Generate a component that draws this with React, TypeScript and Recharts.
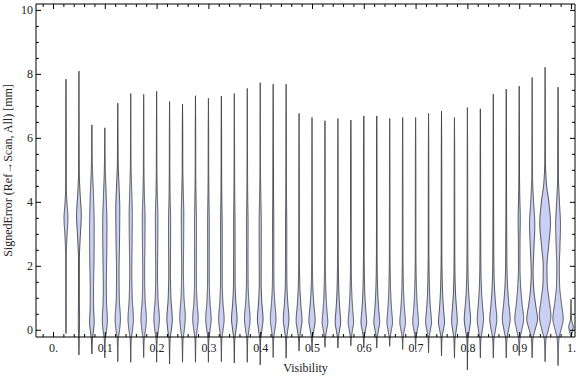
import { ComposedChart, Bar, Scatter, XAxis, YAxis, Label } from "recharts"

// visibility bins (x) and the extent of the signed error in each bin
const visibility = [
  0.025, 0.05, 0.075, 0.1, 0.125, 0.15, 0.175, 0.2, 0.225, 0.25,
  0.275, 0.3, 0.325, 0.35, 0.375, 0.4, 0.425, 0.45, 0.475, 0.5,
  0.525, 0.55, 0.575, 0.6, 0.625, 0.65, 0.675, 0.7, 0.725, 0.75,
  0.775, 0.8, 0.825, 0.85, 0.875, 0.9, 0.925, 0.95, 0.975, 1.0,
]

const errorMax = [
  7.85, 8.1, 6.42, 6.33, 7.1, 7.4, 7.37, 7.47, 7.15, 7.07,
  7.33, 7.25, 7.32, 7.4, 7.56, 7.74, 7.69, 7.69, 6.78, 6.65,
  6.55, 6.62, 6.57, 6.7, 6.7, 6.62, 6.65, 6.65, 6.78, 6.85,
  6.65, 6.96, 6.92, 7.38, 7.54, 7.63, 7.9, 8.22, 7.6, 0.97,
]

const errorMin = [
  -0.1, -0.77, -0.74, -0.86, -0.98, -1.0, -0.85, -1.0, -1.05, -1.0,
  -1.0, -1.0, -0.98, -1.02, -1.0, -1.08, -0.85, -0.87, -0.65, -0.65,
  -0.53, -0.55, -0.48, -0.55, -0.55, -0.5, -0.6, -0.6, -0.7, -0.8,
  -0.86, -1.24, -0.86, -0.86, -0.86, -0.79, -0.86, -0.98, -1.1, -0.2,
]

// relative density [error, density]
const densityKnots = [
  [[0.0, 0.04], [0.4, 0.06], [1.2, 0.05], [2.3, 0.05], [2.9, 0.15], [3.5, 0.31], [4.0, 0.15], [4.5, 0.05], [6.0, 0.035]],
  [[-0.3, 0.04], [0.3, 0.1], [1.0, 0.07], [2.2, 0.07], [2.8, 0.18], [3.6, 0.37], [4.3, 0.18], [4.9, 0.06], [6.0, 0.035]],
  [[-0.3, 0.08], [0.0, 0.26], [0.25, 0.37], [0.7, 0.28], [1.3, 0.26], [2.2, 0.34], [3.2, 0.37], [4.2, 0.26], [5.0, 0.1], [5.6, 0.04]],
  [[-0.3, 0.08], [0.0, 0.28], [0.3, 0.4], [0.9, 0.27], [1.4, 0.24], [2.3, 0.3], [3.3, 0.34], [4.2, 0.22], [5.0, 0.08], [5.6, 0.035]],
  [[-0.3, 0.08], [0.0, 0.28], [0.35, 0.42], [1.0, 0.24], [1.8, 0.2], [2.8, 0.28], [3.8, 0.32], [4.5, 0.2], [5.3, 0.06], [6.2, 0.035]],
  [[-0.3, 0.08], [0.0, 0.28], [0.35, 0.43], [1.0, 0.24], [1.8, 0.17], [2.8, 0.22], [3.6, 0.25], [4.5, 0.14], [5.2, 0.05], [6.2, 0.035]],
  [[-0.3, 0.08], [0.0, 0.28], [0.35, 0.43], [1.0, 0.22], [1.8, 0.15], [2.7, 0.2], [3.5, 0.22], [4.3, 0.11], [5.1, 0.045], [6.2, 0.035]],
  [[-0.3, 0.08], [0.0, 0.28], [0.35, 0.44], [1.0, 0.22], [1.8, 0.14], [2.7, 0.18], [3.5, 0.2], [4.3, 0.1], [5.1, 0.045], [6.2, 0.035]],
  [[-0.3, 0.08], [0.0, 0.28], [0.35, 0.43], [1.0, 0.22], [1.8, 0.13], [2.7, 0.16], [3.4, 0.17], [4.2, 0.08], [5.0, 0.045], [6.2, 0.035]],
  [[-0.3, 0.08], [0.0, 0.28], [0.4, 0.44], [1.1, 0.22], [1.9, 0.14], [2.8, 0.18], [3.6, 0.2], [4.4, 0.11], [5.1, 0.045], [6.2, 0.035]],
  [[-0.3, 0.07], [0.0, 0.26], [0.35, 0.44], [0.9, 0.25], [1.5, 0.15], [2.4, 0.15], [3.3, 0.16], [4.2, 0.09], [5.0, 0.045], [6.2, 0.035]],
  [[-0.3, 0.07], [0.0, 0.26], [0.35, 0.43], [0.9, 0.24], [1.5, 0.14], [2.4, 0.13], [3.3, 0.14], [4.2, 0.08], [5.0, 0.045], [6.2, 0.035]],
  [[-0.3, 0.07], [0.0, 0.26], [0.35, 0.44], [0.9, 0.24], [1.5, 0.14], [2.4, 0.13], [3.3, 0.13], [4.2, 0.07], [5.0, 0.045], [6.2, 0.035]],
  [[-0.3, 0.07], [0.0, 0.26], [0.35, 0.44], [0.9, 0.24], [1.5, 0.13], [2.4, 0.12], [3.3, 0.12], [4.2, 0.07], [5.0, 0.045], [6.2, 0.035]],
  [[-0.3, 0.07], [0.0, 0.26], [0.35, 0.45], [0.9, 0.25], [1.5, 0.13], [2.4, 0.12], [3.3, 0.13], [4.2, 0.07], [5.0, 0.045], [6.2, 0.035]],
  [[-0.3, 0.07], [0.0, 0.26], [0.35, 0.45], [0.9, 0.25], [1.5, 0.15], [2.4, 0.16], [3.3, 0.17], [4.2, 0.1], [5.0, 0.045], [6.2, 0.035]],
  [[-0.3, 0.07], [0.0, 0.26], [0.35, 0.45], [0.9, 0.25], [1.5, 0.12], [2.4, 0.1], [3.3, 0.1], [4.2, 0.06], [5.0, 0.045], [6.2, 0.035]],
  [[-0.3, 0.07], [0.0, 0.26], [0.35, 0.45], [0.9, 0.25], [1.5, 0.12], [2.4, 0.1], [3.3, 0.1], [4.2, 0.06], [5.0, 0.045], [6.2, 0.035]],
  [[-0.3, 0.07], [0.0, 0.27], [0.3, 0.47], [0.8, 0.28], [1.4, 0.12], [2.2, 0.06], [3.5, 0.05], [5.0, 0.04]],
  [[-0.3, 0.07], [0.0, 0.28], [0.3, 0.5], [0.8, 0.3], [1.4, 0.12], [2.2, 0.06], [3.5, 0.05], [5.0, 0.04]],
  [[-0.25, 0.07], [0.0, 0.26], [0.25, 0.45], [0.65, 0.3], [1.1, 0.17], [1.7, 0.09], [2.5, 0.05], [4.0, 0.045], [5.5, 0.035]],
  [[-0.25, 0.07], [0.0, 0.26], [0.25, 0.44], [0.65, 0.3], [1.1, 0.17], [1.7, 0.09], [2.5, 0.05], [4.0, 0.045], [5.5, 0.035]],
  [[-0.25, 0.07], [0.0, 0.25], [0.25, 0.43], [0.65, 0.29], [1.1, 0.16], [1.7, 0.08], [2.5, 0.05], [4.0, 0.045], [5.5, 0.035]],
  [[-0.25, 0.07], [0.0, 0.26], [0.25, 0.45], [0.65, 0.3], [1.1, 0.17], [1.7, 0.09], [2.5, 0.05], [4.0, 0.045], [5.5, 0.035]],
  [[-0.25, 0.07], [0.0, 0.27], [0.25, 0.46], [0.65, 0.31], [1.1, 0.18], [1.7, 0.09], [2.5, 0.05], [4.0, 0.045], [5.5, 0.035]],
  [[-0.25, 0.07], [0.0, 0.26], [0.25, 0.44], [0.65, 0.3], [1.1, 0.17], [1.7, 0.09], [2.5, 0.05], [4.0, 0.045], [5.5, 0.035]],
  [[-0.25, 0.07], [0.0, 0.26], [0.25, 0.45], [0.65, 0.3], [1.1, 0.17], [1.7, 0.09], [2.5, 0.05], [4.0, 0.045], [5.5, 0.035]],
  [[-0.25, 0.07], [0.0, 0.27], [0.25, 0.46], [0.65, 0.31], [1.1, 0.18], [1.7, 0.09], [2.5, 0.05], [4.0, 0.045], [5.5, 0.035]],
  [[-0.25, 0.07], [0.0, 0.27], [0.25, 0.47], [0.65, 0.32], [1.1, 0.18], [1.7, 0.1], [2.5, 0.05], [4.0, 0.045], [5.5, 0.035]],
  [[-0.25, 0.07], [0.0, 0.28], [0.25, 0.48], [0.65, 0.33], [1.1, 0.19], [1.7, 0.1], [2.5, 0.05], [4.0, 0.045], [5.5, 0.035]],
  [[-0.3, 0.08], [0.0, 0.28], [0.3, 0.45], [0.75, 0.3], [1.2, 0.16], [1.8, 0.08], [2.6, 0.05], [4.0, 0.045], [5.5, 0.035]],
  [[-0.3, 0.08], [0.0, 0.3], [0.35, 0.5], [0.8, 0.33], [1.3, 0.17], [1.9, 0.09], [2.7, 0.06], [4.0, 0.045], [5.5, 0.035]],
  [[-0.3, 0.08], [0.0, 0.3], [0.35, 0.5], [0.8, 0.33], [1.3, 0.17], [1.9, 0.09], [2.7, 0.06], [4.0, 0.045], [5.5, 0.035]],
  [[-0.3, 0.09], [0.0, 0.33], [0.35, 0.56], [0.8, 0.37], [1.3, 0.2], [1.9, 0.1], [2.7, 0.07], [4.0, 0.045], [5.5, 0.035]],
  [[-0.3, 0.09], [0.0, 0.36], [0.35, 0.62], [0.85, 0.4], [1.4, 0.2], [2.0, 0.11], [2.8, 0.08], [4.0, 0.05], [5.5, 0.035]],
  [[-0.3, 0.1], [0.0, 0.4], [0.35, 0.7], [0.85, 0.45], [1.4, 0.22], [2.0, 0.12], [2.8, 0.13], [3.5, 0.17], [4.2, 0.09], [5.0, 0.045], [6.2, 0.035]],
  [[-0.3, 0.1], [0.0, 0.45], [0.35, 0.85], [0.8, 0.55], [1.3, 0.25], [1.8, 0.15], [2.4, 0.25], [3.3, 0.42], [4.1, 0.2], [4.8, 0.06], [6.0, 0.035]],
  [[-0.3, 0.12], [0.0, 0.5], [0.45, 0.92], [1.0, 0.6], [1.5, 0.33], [2.0, 0.3], [2.6, 0.55], [3.35, 0.85], [4.0, 0.6], [4.6, 0.2], [5.3, 0.05], [6.5, 0.035]],
  [[-0.3, 0.12], [0.0, 0.45], [0.35, 0.82], [0.9, 0.5], [1.4, 0.25], [2.0, 0.2], [2.6, 0.3], [3.3, 0.38], [4.1, 0.2], [4.8, 0.06], [6.0, 0.035]],
  [[-0.1, 0.15], [0.11, 0.36], [0.3, 0.12], [0.5, 0.045]],
]

const xMajorTicks = [0, 0.1, 0.2, 0.3, 0.4, 0.5, 0.6, 0.7, 0.8, 0.9, 1.0]
const xTickLabels = ["0.", "0.1", "0.2", "0.3", "0.4", "0.5", "0.6", "0.7", "0.8", "0.9", "1."]
const yMajorTicks = [0, 2, 4, 6, 8, 10]
const yTickLabels = ["0", "2", "4", "6", "8", "10"]

const xTicks: number[] = []
for (let i = -1; i <= 50; i++) xTicks.push(Math.round(i * 2) / 100)
const yTicks: number[] = []
for (let i = 0; i <= 20; i++) yTicks.push(i / 2)

const data = visibility.map((v, i) => ({
  v,
  range: [0, errorMax[i]],
  lo: errorMin[i],
  hi: errorMax[i],
  knots: densityKnots[i],
}))

const FONT = "'Liberation Serif', 'Times New Roman', serif"
const HALF_WIDTH = 6.3
const FRAME = "#000"

const majorIndex = (list: number[], v: number) => list.findIndex((m) => Math.abs(m - v) < 1e-6)

// monotone cubic through the knots so the outline never overshoots
function monotone(xs: number[], ys: number[]) {
  const n = xs.length
  const d: number[] = []
  for (let i = 0; i < n - 1; i++) d.push((ys[i + 1] - ys[i]) / (xs[i + 1] - xs[i]))
  const m: number[] = new Array(n).fill(0)
  m[0] = d[0]
  m[n - 1] = d[n - 2]
  for (let i = 1; i < n - 1; i++) {
    if (d[i - 1] * d[i] <= 0) m[i] = 0
    else {
      const h0 = xs[i] - xs[i - 1]
      const h1 = xs[i + 1] - xs[i]
      m[i] = (3 * (h0 + h1)) / ((2 * h1 + h0) / d[i - 1] + (h1 + 2 * h0) / d[i])
    }
  }
  return (x: number) => {
    let k = 0
    while (k < n - 2 && x > xs[k + 1]) k++
    const h = xs[k + 1] - xs[k]
    const t = Math.min(1, Math.max(0, (x - xs[k]) / h))
    const t2 = t * t
    const t3 = t2 * t
    return (
      (2 * t3 - 3 * t2 + 1) * ys[k] +
      (t3 - 2 * t2 + t) * h * m[k] +
      (-2 * t3 + 3 * t2) * ys[k + 1] +
      (t3 - t2) * h * m[k + 1]
    )
  }
}

function Violin(props: any) {
  const { x, y, width, height, payload } = props
  if (!payload || !height) return null
  const { lo, hi, knots } = payload
  const cx = x + width / 2
  const pxPerUnit = height / hi
  const zeroY = y + height
  const toY = (v: number) => zeroY - v * pxPerUnit
  const pts = [[lo, 0], ...knots, [hi, 0]]
  const f = monotone(pts.map((p: number[]) => p[0]), pts.map((p: number[]) => p[1]))
  const steps = Math.max(8, Math.ceil((hi - lo) * pxPerUnit))
  const right: string[] = []
  const left: string[] = []
  for (let s = 0; s <= steps; s++) {
    const v = lo + ((hi - lo) * s) / steps
    const w = Math.max(0, f(v)) * HALF_WIDTH
    const py = toY(v).toFixed(2)
    right.push(`${(cx + w).toFixed(2)},${py}`)
    left.unshift(`${(cx - w).toFixed(2)},${py}`)
  }
  const d = `M${right.join("L")}L${left.join("L")}Z`
  return (
    <path
      d={d}
      fill="#c9d0f3"
      stroke="#383838"
      strokeOpacity={0.85}
      strokeWidth={1}
      strokeLinejoin="round"
    />
  )
}

function BottomTick({ x, y, payload }: any) {
  const i = majorIndex(xMajorTicks, payload.value)
  return (
    <g>
      <line x1={x} y1={y} x2={x} y2={y - (i >= 0 ? 5 : 3)} stroke={FRAME} />
      {i >= 0 && (
        <text x={x} y={y + 15} textAnchor="middle" fontSize={12} fontFamily={FONT} fill="#222">
          {xTickLabels[i]}
        </text>
      )}
    </g>
  )
}

function TopTick({ x, y, payload }: any) {
  const i = majorIndex(xMajorTicks, payload.value)
  return <line x1={x} y1={y} x2={x} y2={y + (i >= 0 ? 5 : 3)} stroke={FRAME} />
}

function LeftTick({ x, y, payload }: any) {
  const i = majorIndex(yMajorTicks, payload.value)
  return (
    <g>
      <line x1={x} y1={y} x2={x + (i >= 0 ? 5 : 3)} y2={y} stroke={FRAME} />
      {i >= 0 && (
        <text x={x - 3} y={y + 4} textAnchor="end" fontSize={12} fontFamily={FONT} fill="#222">
          {yTickLabels[i]}
        </text>
      )}
    </g>
  )
}

function RightTick({ x, y, payload }: any) {
  const i = majorIndex(yMajorTicks, payload.value)
  return <line x1={x} y1={y} x2={x - (i >= 0 ? 5 : 3)} y2={y} stroke={FRAME} />
}

function YTitle({ viewBox }: any) {
  const px = viewBox.x + 12
  const py = viewBox.y + viewBox.height / 2
  return (
    <text
      x={px}
      y={py}
      transform={`rotate(-90, ${px}, ${py})`}
      textAnchor="middle"
      fontSize={12}
      fontFamily={FONT}
      fill="#222"
    >
      SignedError (Ref→Scan, All) [mm]
    </text>
  )
}

function XTitle({ viewBox }: any) {
  return (
    <text
      x={viewBox.x + viewBox.width / 2}
      y={viewBox.y + 35}
      textAnchor="middle"
      fontSize={12}
      fontFamily={FONT}
      fill="#222"
    >
      Visibility
    </text>
  )
}

export default function App() {
  const xDomain = [-0.0338, 1.0068]
  const yDomain = [-0.21, 10.2]
  return (
    <div style={{ position: "absolute", left: 0, top: 0, width: 576, height: 377, background: "#fff" }}>
      <ComposedChart width={576} height={377} data={data} margin={{ top: 3, right: 0, bottom: 0, left: 0 }}>
        <XAxis
          dataKey="v"
          type="number"
          domain={xDomain}
          ticks={xTicks}
          interval={0}
          tickSize={0}
          tickMargin={0}
          tickLine={false}
          tick={BottomTick}
          axisLine={{ stroke: FRAME }}
          height={40}
        >
          <Label content={XTitle} />
        </XAxis>
        <XAxis
          xAxisId="top"
          dataKey="v"
          orientation="top"
          type="number"
          domain={xDomain}
          ticks={xTicks}
          interval={0}
          tickSize={0}
          tickMargin={0}
          tickLine={false}
          tick={TopTick}
          axisLine={{ stroke: FRAME }}
          height={1}
        />
        <YAxis
          type="number"
          domain={yDomain}
          ticks={yTicks}
          interval={0}
          tickSize={0}
          tickMargin={0}
          tickLine={false}
          tick={LeftTick}
          axisLine={{ stroke: FRAME }}
          width={36}
        >
          <Label content={YTitle} />
        </YAxis>
        <YAxis
          yAxisId="right"
          orientation="right"
          type="number"
          domain={yDomain}
          ticks={yTicks}
          interval={0}
          tickSize={0}
          tickMargin={0}
          tickLine={false}
          tick={RightTick}
          axisLine={{ stroke: FRAME }}
          width={1}
        />
        <Scatter
          xAxisId="top"
          yAxisId="right"
          dataKey="hi"
          isAnimationActive={false}
          shape={() => <g />}
        />
        <Bar dataKey="range" barSize={12} isAnimationActive={false} shape={(p: any) => <Violin {...p} />} />
      </ComposedChart>
    </div>
  )
}
